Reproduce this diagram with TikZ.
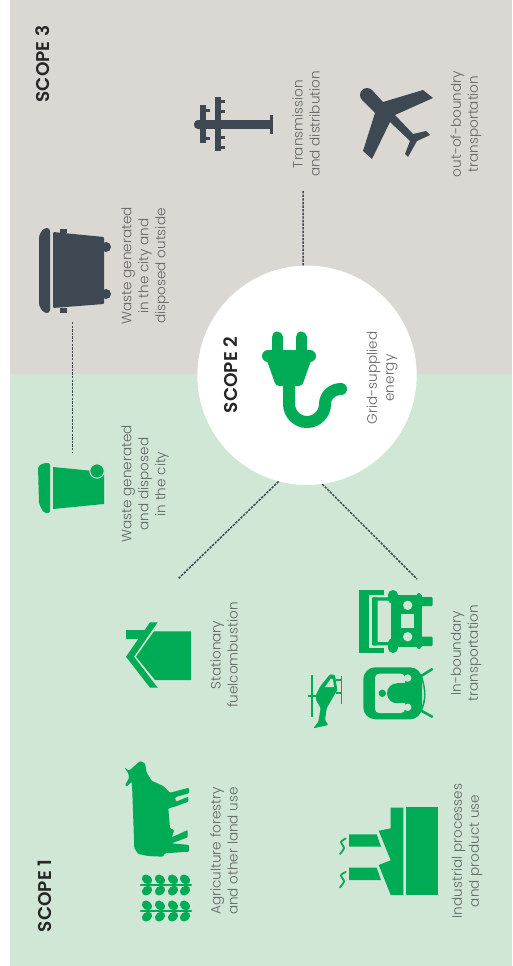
\documentclass[tikz,border=0pt]{standalone}
\usepackage{fontspec}
\setmainfont{Poppins}[UprightFont=* Light,BoldFont=* SemiBold]
\definecolor{bggray}{HTML}{DBD8D3}
\definecolor{bggreen}{HTML}{D0E7D6}
\definecolor{icongreen}{HTML}{00AB55}
\definecolor{icondark}{HTML}{3D4852}
\definecolor{labelgray}{HTML}{626466}
\tikzset{
  scopelabel/.style={rotate=90,font=\fontsize{18.5}{22}\selectfont\bfseries,text=black!85,inner sep=0pt},
  itemlabel/.style={rotate=90,align=center,font=\fontsize{13.6}{17}\selectfont,text=labelgray,inner sep=0pt},
  link/.style={icondark,line width=1.5pt,dash pattern=on 2.4pt off 1.2pt}
}
\begin{document}
\begin{tikzpicture}[x=1pt,y=-1pt]
\useasboundingbox (0,0) rectangle (512,966);
\fill[bggray] (10,0) rectangle (512,374);
\fill[bggreen] (10,374) rectangle (512,966);

% hub and connectors
\node[circle,fill=white,minimum size=219.4pt,inner sep=0pt] (hub) at (307,375.3) {};
\coordinate (gridend) at (303,190);
\coordinate (wastetop) at (72.5,322);
\coordinate (wastelow) at (72.5,453);
\coordinate (fuelend) at (178,579);
\coordinate (moveend) at (417,579);
\draw[link] (hub.92) -- (gridend);
\draw[link] (wastetop) -- (wastelow);
\draw[link] (hub.255) -- (fuelend);
\draw[link] (hub.278) -- (moveend);

% labels
\node[scopelabel] (scopethree) at (43,64) {SCOPE 3};
\node[scopelabel] (scopetwo) at (231,375) {SCOPE 2};
\node[scopelabel] (scopeone) at (45,896) {SCOPE 1};
\node[itemlabel] (transmission) at (306,124) {Transmission\\and distribution};
\node[itemlabel] (outboundary) at (466,124) {out-of-boundry\\transportation};
\node[itemlabel] (wasteout) at (145,266) {Waste generated\\in the city and\\disposed outside};
\node[itemlabel] (wastein) at (145,484) {Waste generated\\and disposed\\in the city};
\node[itemlabel] (grid) at (382,378) {Grid-supplied\\energy};
\node[itemlabel] (stationary) at (224,655) {Stationary\\fuelcombustion};
\node[itemlabel] (inboundary) at (466,653) {In-boundary\\transportation};
\node[itemlabel] (agriculture) at (224,851) {Agriculture forestry\\and other land use};
\node[itemlabel] (industrial) at (467,851) {Industrial processes\\and product use};

% pylon
\fill[icondark] (200,105) rectangle (206,143);
\fill[icondark] (215,97) rectangle (221,151);
\fill[icondark,rounded corners=4pt] (194,120) rectangle (204,129);
\fill[icondark] (198,120) rectangle (272,129);
\fill[icondark] (270,115) rectangle (273,134);
\foreach \x/\y in {206/109,206/137,221/100,221/110,221/136,221/146}
  \fill[icondark] (\x,\y) rectangle (\x+4,\y+3);

% plane
\fill[icondark] (367,95) circle (7);
\fill[icondark] (372,90) -- (383,102) -- (423,90) -- (433,98) -- (395,115) -- (413,134) -- (426,131) -- (430,135)
  -- (417,141) -- (408,157) -- (405,154) -- (410,141) -- (390,122) -- (372,159) -- (363,151) -- (375,113) -- (362,100) -- cycle;

% dark bin
\fill[icondark,rounded corners=3pt] (44,228) -- (50,228) -- (50,313) -- (44,313) -- (39,306) -- (39,235) -- cycle;
\fill[icondark,rounded corners=1pt] (53,232) -- (104,237) -- (104,304) -- (53,308) -- cycle;
\fill[icondark] (60,229) rectangle (67,233);
\fill[icondark] (60,308) rectangle (67,313);
\foreach \y in {247,294}
  \fill[icondark] (106,\y) circle (5);

% green bin
\fill[icongreen,rounded corners=2pt] (44,463) -- (50,463) -- (50,513) -- (44,513) -- (39,504) -- (38,466) -- cycle;
\fill[icongreen] (53,467) -- (104,472) -- (104,504) -- (53,509) -- cycle;
\fill[icongreen,draw=bggreen,line width=1pt] (97,471) circle (7.2);

% plug
\begin{scope}[icongreen,line cap=round]
\draw[line width=11pt] (277,337) -- (277,355);
\draw[line width=11pt] (301,337) -- (301,355);
\draw[line width=12pt] (268,356) -- (310,356);
\fill[rounded corners=3pt] (266,358) -- (312,358) -- (302,386) -- (276,386) -- cycle;
\draw[line width=12pt] (289,386) -- (289,404) .. controls (289,414) and (297,422) .. (307,422)
  .. controls (317,422) and (325,414) .. (325,404) .. controls (325,396) and (332,389) .. (341,389);
\end{scope}

% house
\fill[icongreen] (150,622.3) -- (157.7,622.3) -- (134,656.7) -- (157.7,687.7) -- (150,687.7) -- (126,656.7) -- cycle;
\fill[icongreen] (126,630) -- (145,630) -- (140,639) -- (126,639) -- cycle;
\fill[icongreen] (154,631.3) -- (191,631.3) -- (191,680) -- (155,680) -- (136,656.7) -- cycle;

% truck
\fill[icongreen] (358.7,590) rectangle (384,594.7);
\fill[icongreen] (358.7,648) rectangle (384,652.7);
\fill[icongreen] (358.7,590) rectangle (369.3,652.7);
\fill[icongreen,rounded corners=1pt] (372,597.3) rectangle (390,600.7);
\fill[icongreen,rounded corners=1pt] (372,642) rectangle (390,645.3);
\fill[icongreen,rounded corners=1pt] (372,597.3) rectangle (377.5,645.3);
\fill[icongreen] (390.7,595) rectangle (422,646.7);
\foreach \y/\z in {595/599,643/648}
  \draw[icongreen,line width=10pt,line cap=round] (393,\y) -- (393,\z);
\draw[icongreen,line width=4pt,line cap=round] (418.7,595) -- (418.7,647);
\fill[icongreen,rounded corners=1pt] (420,597) rectangle (432.7,606);
\fill[icongreen,rounded corners=1pt] (420,636.7) rectangle (432.7,646);
\foreach \y in {605.3,636.7}
  \fill[bggreen] (407.7,\y) circle (4.7);
\fill[bggreen] (400.7,614) rectangle (414,628.3);

% train
\fill[icongreen,rounded corners=12pt] (363.3,667.3) rectangle (422,719.3);
\fill[bggreen,rounded corners=4pt] (375,673.7) rectangle (405,713);
\fill[icongreen] (397,693.3) circle (10);
\fill[icongreen] (397,683.3) rectangle (406,703.3);
\fill[icongreen] (382.3,693.3) circle (3.7);
\foreach \y in {678,707.3}
  \fill[bggreen] (407.7,\y) circle (3.7);
\draw[icongreen,line width=2.5pt] (420,676.7) -- (432.7,668.8);
\draw[icongreen,line width=2.5pt] (420,710) -- (432.7,717);
\draw[icongreen,line width=1.5pt] (421,675) .. controls (426,690) and (426,700) .. (421,711);

% helicopter
\draw[icongreen,line width=2pt] (311.7,675) -- (311.7,717.3);
\draw[icongreen,line width=1.5pt] (308.3,696) -- (316,696);
\fill[icongreen,rounded corners=1pt] (316,695) -- (320,686.7) -- (330,674.3) -- (335,675) -- (337.3,690) -- (333.3,696.7)
  -- (326.7,708.3) -- (325,720) -- (328.3,725) -- (313.3,728.3) -- (318.3,721.7) -- (320.7,708.3) -- (316,700) -- cycle;
\fill[bggreen] (325,687) -- (331,678.5) -- (333,679.5) -- (334,687) -- cycle;
\draw[icongreen,line width=1.5pt] (341.7,676) -- (341.7,704);
\foreach \y in {680,693}
  \draw[icongreen,line width=1.2pt] (336,\y) -- (341.7,\y);

% cow
\fill[icongreen,rounded corners=1pt] (124.3,767.3) -- (129,770.7) -- (140,761) -- (145,763.3) -- (146.7,772.7) -- (151.7,780.7)
  -- (163.3,786) -- (170,792.7) -- (189,787.7) -- (189,793.3) -- (175,797.3) -- (176,801.7) -- (188.3,796.7) -- (188.3,801.7)
  -- (175,806.7) -- (168.3,808.3) -- (170,828.3) -- (174.3,830) -- (171.7,837.3) -- (187.7,830) -- (187.7,837.3) -- (171.7,843.3)
  -- (189,845) -- (189,851.7) -- (165,853.3) -- (162.7,856.7) -- (148.3,856) -- (138.3,854) -- (134.3,848.3) -- (132.3,791.7)
  -- (131.7,781.7) -- (126.7,786.7) -- (125,785) -- (129,778.3) -- (128.3,773.3) -- cycle;

% plants
\foreach \y in {885,911} {
  \draw[icongreen,line width=2.5pt,line cap=round] (141,\y) -- (191,\y);
  \foreach \x in {147,160,173,185} {
    \fill[icongreen,shift={(\x,\y-5.6)},rotate=-40] (0,0) ellipse (5.6 and 4.4);
    \fill[icongreen,shift={(\x,\y+5.6)},rotate=40] (0,0) ellipse (5.6 and 4.4);
  }
}

% factory
\fill[icongreen] (406,807) rectangle (438,895);
\fill[icongreen] (390.7,807.7) -- (403.3,807.7) -- (403.3,895) -- (390.7,895) -- (378.7,865) -- (390.7,860.3) -- (378.7,830.7) -- (390.7,828.3) -- cycle;
\foreach \y in {0,33.4} {
  \fill[icongreen] (349,834.3+\y) -- (376.7,834.3+\y) -- (381,846.7+\y) -- (349,846.7+\y) -- cycle;
  \draw[icongreen,line width=1.8pt,line cap=round] plot[smooth] coordinates {(345.7,838.5+\y) (341,842+\y) (344,848+\y) (340,854+\y)};
}
\end{tikzpicture}
\end{document}
